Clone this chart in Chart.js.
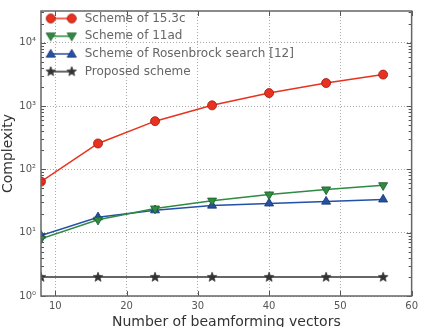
<!DOCTYPE html>
<html>
<head>
<meta charset="utf-8">
<script src="https://cdn.jsdelivr.net/npm/chart.js@4.4.1/dist/chart.umd.min.js"></script>
<style>html,body{margin:0;padding:0;background:#fff;}</style>
</head>
<body>
<canvas id="chart" width="422" height="327"></canvas>
<script>
const beams = [8, 16, 24, 32, 40, 48, 56];
const scheme153c = [64, 256, 576, 1024, 1600, 2304, 3136];
const scheme11ad = [8, 16, 24, 32, 40, 48, 56];
const schemeRosen = [9, 17.5, 22.6, 26.8, 29, 31, 33.5];
const proposed = [2, 2, 2, 2, 2, 2, 2];
const seriesNames = ['Scheme of 15.3c', 'Scheme of 11ad', 'Scheme of Rosenbrock search [12]', 'Proposed scheme'];
const xTicks = [10, 20, 30, 40, 50, 60];
const yTicks = [1, 10, 100, 1000, 10000];
const yTickLabels = ['10⁰', '10¹', '10²', '10³', '10⁴'];

const FONT = 'DejaVu Sans';
const RED = '#e8321f', GREEN = '#2f8a42', BLUE = '#2450a6', BLACK = '#333333';

// marker helpers (also used for the legend swatches)
function drawMarker(ctx, kind, x, y, color, edge) {
    ctx.fillStyle = color;
    ctx.strokeStyle = edge;
    ctx.lineWidth = 0.8;
    ctx.beginPath();
    if (kind === 'circle') {
        ctx.arc(x, y, 4.5, 0, Math.PI * 2);
    } else if (kind === 'down') {
        ctx.moveTo(x - 4.6, y - 3.2); ctx.lineTo(x + 4.6, y - 3.2); ctx.lineTo(x, y + 4.6);
    } else if (kind === 'up') {
        ctx.moveTo(x - 4.6, y + 3.2); ctx.lineTo(x + 4.6, y + 3.2); ctx.lineTo(x, y - 4.6);
    } else {
        for (let i = 0; i < 10; i++) {
            const r = i % 2 ? 2.1 : 5;
            const a = -Math.PI / 2 + i * Math.PI / 5;
            ctx.lineTo(x + r * Math.cos(a), y + r * Math.sin(a));
        }
    }
    ctx.closePath();
    ctx.fill();
    ctx.stroke();
}

function starImage() {
    const c = document.createElement('canvas');
    c.width = 12; c.height = 12;
    drawMarker(c.getContext('2d'), 'star', 6, 6.3, BLACK, BLACK);
    return c;
}

function legendImage(kind, color, edge) {
    const c = document.createElement('canvas');
    c.width = 36; c.height = 12;
    const g = c.getContext('2d');
    g.strokeStyle = color; g.lineWidth = 1.5;
    g.beginPath(); g.moveTo(6, 6); g.lineTo(27, 6); g.stroke();
    drawMarker(g, kind, 6, 6, color, edge);
    drawMarker(g, kind, 27, 6, color, edge);
    return c;
}

const legendImgs = [
    legendImage('circle', RED, '#9a1a10'),
    legendImage('down', GREEN, '#1d5c2a'),
    legendImage('up', BLUE, '#16336e'),
    legendImage('star', BLACK, BLACK)
];

const frame = {
    id: 'frame',
    afterDatasetsDraw(chart) {
        const {ctx, chartArea: a, scales: {x, y}} = chart;
        ctx.save();
        ctx.strokeStyle = '#555';
        ctx.lineWidth = 1;
        const seg = (x1, y1, x2, y2) => { ctx.beginPath(); ctx.moveTo(x1, y1); ctx.lineTo(x2, y2); ctx.stroke(); };
        xTicks.forEach(v => {
            const px = Math.round(x.getPixelForValue(v)) + 0.5;
            seg(px, a.bottom, px, a.bottom - 5);
            seg(px, a.top, px, a.top + 5);
        });
        yTicks.forEach(d => {
            for (let m = 1; m <= 9; m++) {
                const v = d * m;
                if (v > y.max) break;
                const py = Math.round(y.getPixelForValue(v)) + 0.5;
                const len = m === 1 ? 5 : 3;
                seg(a.left, py, a.left + len, py);
                seg(a.right, py, a.right - len, py);
            }
        });
        ctx.strokeStyle = '#666';
        ctx.lineWidth = 1.5;
        ctx.strokeRect(a.left, a.top, a.right - a.left, a.bottom - a.top);
        ctx.restore();
    }
};

const ds = (label, data, color, edge, style, rotation, radius) => ({
    label: label,
    data: data,
    borderColor: color,
    borderWidth: 1.5,
    backgroundColor: color,
    pointBackgroundColor: color,
    pointBorderColor: edge,
    pointBorderWidth: 0.8,
    pointStyle: style,
    pointRotation: rotation,
    pointRadius: radius,
    pointHoverRadius: radius,
    tension: 0,
    clip: 0
});

new Chart(document.getElementById('chart').getContext('2d'), {
    type: 'line',
    data: {
        labels: beams,
        datasets: [
            ds(seriesNames[0], scheme153c, RED, '#9a1a10', 'circle', 0, 4.5),
            ds(seriesNames[1], scheme11ad, GREEN, '#1d5c2a', 'triangle', 180, 5.2),
            ds(seriesNames[2], schemeRosen, BLUE, '#16336e', 'triangle', 0, 5.2),
            ds(seriesNames[3], proposed, BLACK, BLACK, starImage(), 0, 5)
        ]
    },
    options: {
        responsive: false,
        animation: false,
        devicePixelRatio: 1,
        layout: { padding: { left: 0, right: 7, top: 5, bottom: 0 } },
        scales: {
            x: {
                type: 'linear',
                min: 8,
                max: 60,
                afterBuildTicks: s => { s.ticks = xTicks.map(v => ({ value: v })); },
                afterFit: s => { s.height = 31; },
                grid: { color: '#aaa', drawTicks: false },
                border: { display: false, dash: [1, 2] },
                ticks: { padding: 4, color: '#555', font: { family: FONT, size: 10 }, maxRotation: 0 },
                title: { display: true, text: 'Number of beamforming vectors', color: '#333', padding: { top: 0, bottom: -4 }, font: { family: FONT, size: 14 } }
            },
            y: {
                type: 'logarithmic',
                min: 1,
                max: 31622.8,
                afterBuildTicks: s => { s.ticks = yTicks.map(v => ({ value: v })); },
                afterFit: s => { s.width = 41; },
                grid: { color: '#aaa', drawTicks: false },
                border: { display: false, dash: [1, 2] },
                ticks: {
                    padding: 5, color: '#555', font: { family: FONT, size: 10 },
                    callback: v => { const i = yTicks.indexOf(v); return i < 0 ? '' : yTickLabels[i]; }
                },
                title: { display: true, text: 'Complexity', color: '#333', padding: 0, font: { family: FONT, size: 14 } }
            }
        },
        plugins: {
            tooltip: { enabled: false },
            legend: {
                position: 'chartArea',
                align: 'start',
                title: { display: true, text: ' ', padding: { top: 0, bottom: 0.8 }, font: { size: 5 } },
                labels: {
                    usePointStyle: true,
                    pointStyleWidth: 32,
                    padding: 5.7,
                    color: '#333',
                    font: { family: FONT, size: 12 },
                    generateLabels: chart => chart.data.datasets.map((d, i) => ({
                        text: d.label,
                        pointStyle: legendImgs[i],
                        fillStyle: 'transparent',
                        strokeStyle: 'transparent',
                        lineWidth: 0,
                        datasetIndex: i,
                        hidden: false
                    }))
                }
            }
        }
    },
    plugins: [frame]
});
</script>
</body>
</html>
